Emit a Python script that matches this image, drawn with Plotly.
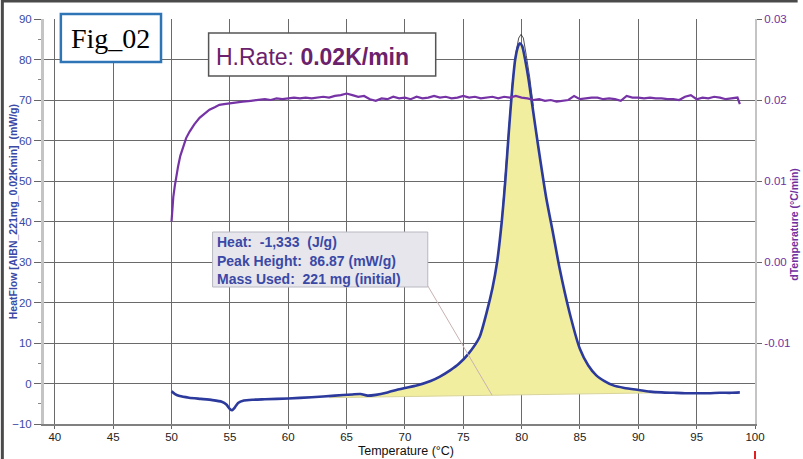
import plotly.graph_objects as go

# ---------------- data ----------------
hf_T = [50.0, 50.3, 50.7, 51.5, 52.5, 53.5, 54.3, 54.7, 55.0, 55.2, 55.4, 55.7, 56.2, 57.0, 58.0,
        60.0, 62.0, 64.0, 65.5, 66.2, 66.8, 67.5, 68.5, 69.4, 70.0, 71.0, 72.2, 73.0, 73.9, 74.6,
        75.4, 76.4, 77.0, 77.5, 77.9, 78.3, 78.6, 78.9, 79.2, 79.45, 79.7, 79.85, 80.05, 80.3,
        80.6, 80.9, 81.4, 82.1, 82.7, 83.25, 84.1, 85.0, 85.7, 86.4, 87.1, 87.8, 88.8, 90.0,
        91.0, 92.0, 93.0, 94.0, 95.0, 96.0, 97.0, 98.0, 98.7]
hf_V = [-1.9, -2.6, -3.1, -3.5, -3.8, -4.1, -4.5, -5.2, -6.3, -6.6, -6.0, -4.8, -4.2, -4.0, -3.9,
        -3.7, -3.4, -3.0, -2.7, -2.6, -3.0, -2.8, -2.2, -1.5, -1.1, -0.5, 0.6, 1.7, 3.3, 4.8,
        7.2, 11.5, 17.5, 23.5, 30.0, 40.0, 50.0, 62.0, 73.0, 80.0, 83.3, 84.0, 83.3, 80.0,
        75.0, 69.0, 59.0, 46.0, 37.0, 28.5, 17.6, 8.5, 4.5, 2.0, 0.6, -0.4, -1.1, -1.6,
        -2.0, -2.2, -2.3, -2.4, -2.4, -2.4, -2.3, -2.3, -2.2]

# peak outline (integration trace)
out_T = [78.3, 78.6, 78.9, 79.2, 79.5, 79.75, 79.95, 80.15, 80.4, 80.7, 81.0]
out_V = [40.5, 51.0, 63.0, 74.0, 81.5, 85.3, 86.2, 85.3, 81.0, 75.5, 68.5]

# integration baseline
base_T = [63.5, 91.5]
base_V = [-3.5, -2.3]

# dTemperature (right axis)
dt_T = [50.0, 50.08, 50.15, 50.28, 50.4, 50.56, 50.75, 50.99, 51.25, 51.55, 51.95, 52.4, 52.8,
        53.25, 53.7, 54.1, 54.5, 54.95, 55.5, 56.1, 56.8,
        57.5, 58.0, 58.5, 59.0, 59.5, 60.0, 60.5, 61.0, 61.5, 62.0, 62.5, 63.0, 63.5, 64.0,
        64.5, 65.0, 65.5, 66.0, 66.5, 67.0, 67.5, 68.0, 68.5, 69.0, 69.5, 70.0, 70.5, 71.0,
        71.5, 72.0, 72.5, 73.0, 73.5, 74.0, 74.5, 75.0, 75.5, 76.0, 76.5, 77.0, 77.5, 78.0,
        78.5, 79.0, 79.5, 80.0, 80.5, 81.0, 81.5, 82.0, 82.5, 83.0, 83.5, 84.0, 84.5, 85.0,
        85.5, 86.0, 86.5, 87.0, 87.5, 88.0, 88.5, 89.0, 89.5, 90.0, 90.5, 91.0, 91.5, 92.0,
        92.5, 93.0, 93.5, 94.0, 94.5, 95.0, 95.5, 96.0, 96.5, 97.0, 97.5, 98.0, 98.5, 98.7]
dt_V = [0.0050, 0.0068, 0.0080, 0.0094, 0.0106, 0.0118, 0.0131, 0.0143, 0.0153, 0.0161, 0.0170,
        0.0178, 0.0183, 0.0188, 0.0191, 0.0194, 0.0195, 0.0196, 0.0197, 0.0198, 0.0199,
        0.0200, 0.0201, 0.0200, 0.0202, 0.0201, 0.0202, 0.0203, 0.0202, 0.0203, 0.0202,
        0.0203, 0.0204, 0.0203, 0.0205, 0.0206, 0.0208, 0.0206, 0.0204, 0.0205, 0.0201,
        0.0199, 0.0202, 0.0201, 0.0204, 0.0202, 0.0203, 0.0201, 0.0204, 0.0202, 0.0203,
        0.0205, 0.0203, 0.0204, 0.0202, 0.0203, 0.0205, 0.0203, 0.0204, 0.0202, 0.0203,
        0.0204, 0.0202, 0.0204, 0.0203, 0.0205, 0.0203, 0.0202, 0.0200, 0.0201, 0.0199,
        0.0200, 0.0198, 0.0199, 0.0200, 0.0205, 0.0201, 0.0202, 0.0203, 0.0203, 0.0201,
        0.0202, 0.0201, 0.0199, 0.0205, 0.0203, 0.0203, 0.0202, 0.0203, 0.0202, 0.0202,
        0.0201, 0.0201, 0.0200, 0.0204, 0.0206, 0.0201, 0.0203, 0.0202, 0.0204, 0.0203,
        0.0201, 0.0202, 0.0203, 0.0195]

x_ticks = [40, 45, 50, 55, 60, 65, 70, 75, 80, 85, 90, 95, 100]
y_ticks = [-10, 0, 10, 20, 30, 40, 50, 60, 70, 80, 90]
y2_ticks = [-0.01, 0.0, 0.01, 0.02, 0.03]
y2_text = ["-0.01", "0.00", "0.01", "0.02", "0.03"]

info_lines = ["Heat:\u00a0\u00a0-1,333\u00a0\u00a0(J/g)",
              "Peak Height:\u00a0\u00a086.87 (mW/g)",
              "Mass Used:\u00a0\u00a0221 mg (initial)"]

# ---------------- geometry helpers (pixel -> paper) ----------------
W, H = 803, 459
ML, MR, MT, MB = 43, 43, 19, 35
PW, PH = W - ML - MR, H - MT - MB


def px(x):
    return (x - ML) / PW


def py(y):
    return (H - MB - y) / PH


BLUE = "#2b3a9c"
BLUE_TXT = "#3a48a6"
PURPLE = "#7633a6"
PURPLE_TXT = "#7030a0"
YELLOW = "rgb(242,238,160)"

# fill polygon: curve segment between baseline ends + baseline reversed
seg = [(t, v) for t, v in zip(hf_T, hf_V) if base_T[0] <= t <= base_T[1]]
fill_x = [base_T[0]] + [s[0] for s in seg] + [base_T[1], base_T[0]]
fill_y = [base_V[0]] + [s[1] for s in seg] + [base_V[1], base_V[0]]

fig = go.Figure()
fig.add_trace(go.Scatter(x=fill_x, y=fill_y, fill="toself", fillcolor=YELLOW,
                         mode="lines", line=dict(width=0), hoverinfo="skip", showlegend=False))
fig.add_trace(go.Scatter(x=base_T, y=base_V, mode="lines",
                         line=dict(color="#d8d49a", width=1), showlegend=False))
fig.add_trace(go.Scatter(x=out_T, y=out_V, mode="lines",
                         line=dict(color="#222222", width=0.8), showlegend=False))
fig.add_trace(go.Scatter(x=hf_T, y=hf_V, mode="lines",
                         line=dict(color=BLUE, width=2.6, shape="spline", smoothing=0.6),
                         showlegend=False))
fig.add_trace(go.Scatter(x=dt_T, y=dt_V, mode="lines", yaxis="y2",
                         line=dict(color=PURPLE, width=2.2), showlegend=False))

shapes = []
# outer dark frame (top & left)
shapes.append(dict(type="line", xref="paper", yref="paper", x0=px(0), x1=px(W), y0=py(1), y1=py(1),
                   line=dict(color="#4a4a4a", width=3)))
shapes.append(dict(type="line", xref="paper", yref="paper", x0=px(1), x1=px(1), y0=py(0), y1=py(H),
                   line=dict(color="#4a4a4a", width=3)))
# leader line
shapes.append(dict(type="line", xref="x", yref="y", x0=71.96, y0=24.1, x1=77.47, y1=-2.9,
                   line=dict(color="#c8b2b2", width=1)))
# info box
shapes.append(dict(type="rect", xref="paper", yref="paper", x0=px(213), x1=px(430), y0=py(287), y1=py(232),
                   fillcolor="#e6e6ec", line=dict(color="#b8b8c2", width=1)))
# Fig_02 box
shapes.append(dict(type="rect", xref="paper", yref="paper", x0=px(60), x1=px(161), y0=py(62), y1=py(14),
                   fillcolor="white", line=dict(color="#2e75b6", width=2.5)))
# H.Rate box
shapes.append(dict(type="rect", xref="paper", yref="paper", x0=px(209), x1=px(438), y0=py(76), y1=py(33),
                   fillcolor="white", line=dict(color="#555555", width=1.5)))
# small red marker
shapes.append(dict(type="line", xref="paper", yref="paper", x0=px(760), x1=px(760), y0=py(451), y1=py(459),
                   line=dict(color="#e02020", width=2)))

annotations = []
annotations.append(dict(xref="paper", yref="paper", x=px(110.5), y=py(38), text="Fig_02", showarrow=False,
                        xanchor="center", yanchor="middle",
                        font=dict(family="Liberation Serif, Times New Roman, serif", size=28, color="black")))
annotations.append(dict(xref="paper", yref="paper", x=px(214), y=py(57),
                        text="H.Rate: <b>0.02K/min</b>", showarrow=False, xanchor="left", yanchor="middle",
                        font=dict(family="Liberation Sans, Arial, sans-serif", size=23, color="#6b216b")))
for i, (line, yy) in enumerate(zip(info_lines, [242, 261, 279])):
    annotations.append(dict(xref="paper", yref="paper", x=px(215), y=py(yy), text="<b>" + line + "</b>",
                            showarrow=False, xanchor="left", yanchor="middle",
                            font=dict(family="Liberation Sans, Arial, sans-serif", size=14, color=BLUE_TXT)))
annotations.append(dict(xref="paper", yref="paper", x=px(12), y=py(212),
                        text="<b>HeatFlow [AIBN_221mg_0.02Kmin]\u00a0\u00a0(mW/g)</b>", textangle=-90,
                        showarrow=False, xanchor="center", yanchor="middle",
                        font=dict(family="Liberation Sans, Arial, sans-serif", size=10.5, color=BLUE_TXT)))
annotations.append(dict(xref="paper", yref="paper", x=px(799), y=py(224),
                        text="<b>dTemperature (°C/min)</b>", textangle=-90,
                        showarrow=False, xanchor="center", yanchor="middle",
                        font=dict(family="Liberation Sans, Arial, sans-serif", size=10.5, color=PURPLE_TXT)))
annotations.append(dict(xref="paper", yref="paper", x=px(408), y=py(459), borderpad=0,
                        text="Temperature (°C)", showarrow=False, xanchor="center", yanchor="bottom",
                        font=dict(family="Liberation Sans Narrow, Arial Narrow, sans-serif", size=12.5,
                                  color="#111111")))

fig.update_layout(
    width=W, height=H,
    margin=dict(l=ML, r=MR, t=MT, b=MB, pad=0),
    paper_bgcolor="white", plot_bgcolor="white",
    showlegend=False,
    shapes=shapes, annotations=annotations,
    xaxis=dict(range=[39.07, 100], tickvals=x_ticks, showgrid=True, gridcolor="#6a6a6a", gridwidth=1,
               zeroline=False, showline=True, linecolor="#808080", linewidth=1.5,
               ticks="outside", ticklen=3, tickcolor="#666666", ticklabelstandoff=-2,
               tickfont=dict(family="Liberation Sans Narrow, Arial Narrow, sans-serif", size=11.5, color="#222222"),
               tickprefix="<b>", ticksuffix="</b>"),
    yaxis=dict(range=[-10, 90], tickvals=y_ticks, showgrid=True, gridcolor="#6a6a6a", gridwidth=1,
               zeroline=False, showline=True, linecolor="#c4c4c4", linewidth=3,
               ticks="outside", ticklen=7, tickcolor="#666666",
               minor=dict(dtick=5, tick0=-10, ticks="outside", ticklen=3, tickcolor="#888888", showgrid=False),
               tickfont=dict(family="Liberation Sans, Arial, sans-serif", size=11.5, color=BLUE_TXT),
               tickprefix="<b>", ticksuffix="</b>"),
    yaxis2=dict(range=[-0.02, 0.03], overlaying="y", side="right", tickvals=y2_ticks, ticktext=y2_text,
                showgrid=False, zeroline=False, showline=True, linecolor="#c4c4c4", linewidth=2,
                ticks="outside", ticklen=5, tickcolor="#666666",
                tickfont=dict(family="Liberation Sans, Arial, sans-serif", size=11.5, color=PURPLE_TXT),
                tickprefix="<b>", ticksuffix="</b>"),
)

fig.write_html("out.html")
